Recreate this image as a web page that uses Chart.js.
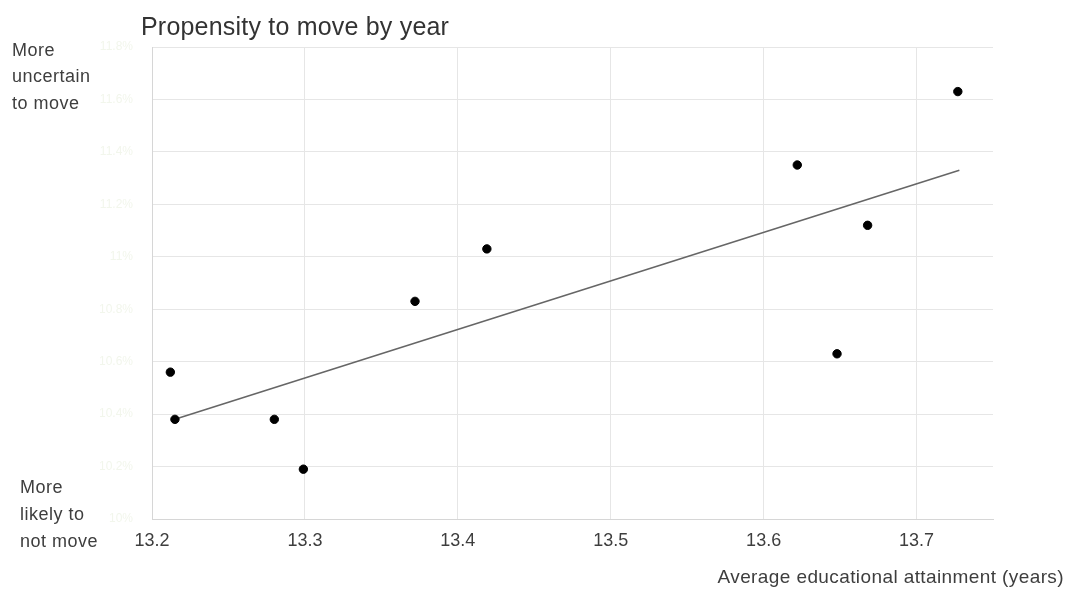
<!DOCTYPE html>
<html>
<head>
<meta charset="utf-8">
<title>Propensity to move by year</title>
<script src="https://cdn.jsdelivr.net/npm/chart.js@4/dist/chart.umd.min.js"></script>
<style>
  html, body { margin: 0; padding: 0; background: #ffffff; }
  #wrap { width: 1071px; height: 590px; position: relative; }
</style>
</head>
<body>
<div id="wrap"><canvas id="chart" width="1071" height="590"></canvas></div>
<script>
// Average educational attainment (years) per year
const attainment = [13.212, 13.215, 13.280, 13.299, 13.372, 13.419, 13.622, 13.648, 13.668, 13.727];
// Propensity to move (share, %)
const propensity = [10.56, 10.38, 10.38, 10.19, 10.83, 11.03, 11.35, 10.63, 11.12, 11.63];
// Fitted trend line end points
const trendX = [13.215, 13.728];
const trendY = [10.38, 11.33];
// Axis tick definitions
const xTicks = [13.2, 13.3, 13.4, 13.5, 13.6, 13.7];
const yTicks = [10, 10.2, 10.4, 10.6, 10.8, 11, 11.2, 11.4, 11.6, 11.8];

const FONT = '"Liberation Sans", Arial, Helvetica, sans-serif';

const points = attainment.map((x, i) => ({ x: x, y: propensity[i] }));
const trend = trendX.map((x, i) => ({ x: x, y: trendY[i] }));

// Title, axis caption and the two side notes around the plot
const sideText = {
  id: 'sideText',
  afterDraw(chart) {
    const ctx = chart.ctx;
    ctx.save();
    ctx.fillStyle = '#333333';
    ctx.textBaseline = 'middle';
    ctx.textAlign = 'left';
    ctx.font = '25px ' + FONT;
    ctx.letterSpacing = '0.2px';
    ctx.fillText('Propensity to move by year', 141, 28);

    ctx.font = '18px ' + FONT;
    ctx.letterSpacing = '0.5px';
    ctx.fillStyle = '#3e3e3e';
    ['More', 'uncertain', 'to move'].forEach((t, i) => ctx.fillText(t, 12, 51 + i * 26.5));
    ['More', 'likely to', 'not move'].forEach((t, i) => ctx.fillText(t, 20, 488 + i * 27));

    ctx.font = '19px ' + FONT;
    ctx.letterSpacing = '0.4px';
    ctx.textAlign = 'right';
    ctx.fillText('Average educational attainment (years)', 1064, 578);
    ctx.restore();
  }
};

new Chart(document.getElementById('chart'), {
  type: 'scatter',
  data: {
    datasets: [
      {
        type: 'line',
        label: 'Trend',
        data: trend,
        borderColor: '#666666',
        borderWidth: 1.6,
        pointRadius: 0,
        fill: false,
        order: 2
      },
      {
        label: 'Years',
        data: points,
        backgroundColor: '#000000',
        borderColor: '#000000',
        pointRadius: 4.2,
        pointHoverRadius: 4.2,
        order: 1
      }
    ]
  },
  options: {
    responsive: false,
    animation: false,
    layout: { padding: { left: 100, top: 47, right: 78, bottom: 31 } },
    plugins: {
      legend: { display: false },
      tooltip: { enabled: false },
      title: { display: false }
    },
    scales: {
      x: {
        type: 'linear',
        min: 13.2,
        max: 13.75,
        afterFit(scale) { scale.height = 40; },
        afterBuildTicks(scale) { scale.ticks = xTicks.map(v => ({ value: v })); },
        ticks: {
          color: '#3e3e3e',
          font: { family: FONT, size: 18 },
          padding: 11,
          callback: v => v.toFixed(1)
        },
        grid: { color: '#e6e6e6', lineWidth: 1, drawTicks: false },
        border: { display: true, color: '#d6d6d6', width: 1 }
      },
      y: {
        type: 'linear',
        min: 10,
        max: 11.8,
        afterFit(scale) { scale.width = 52; },
        afterBuildTicks(scale) { scale.ticks = yTicks.map(v => ({ value: v })); },
        ticks: {
          color: '#f2f6ec',
          font: { family: FONT, size: 12 },
          padding: 19,
          callback: v => (Number.isInteger(v) ? v : v.toFixed(1)) + '%'
        },
        grid: { color: '#e6e6e6', lineWidth: 1, drawTicks: false },
        border: { display: true, color: '#d6d6d6', width: 1 }
      }
    }
  },
  plugins: [sideText]
});
</script>
</body>
</html>
